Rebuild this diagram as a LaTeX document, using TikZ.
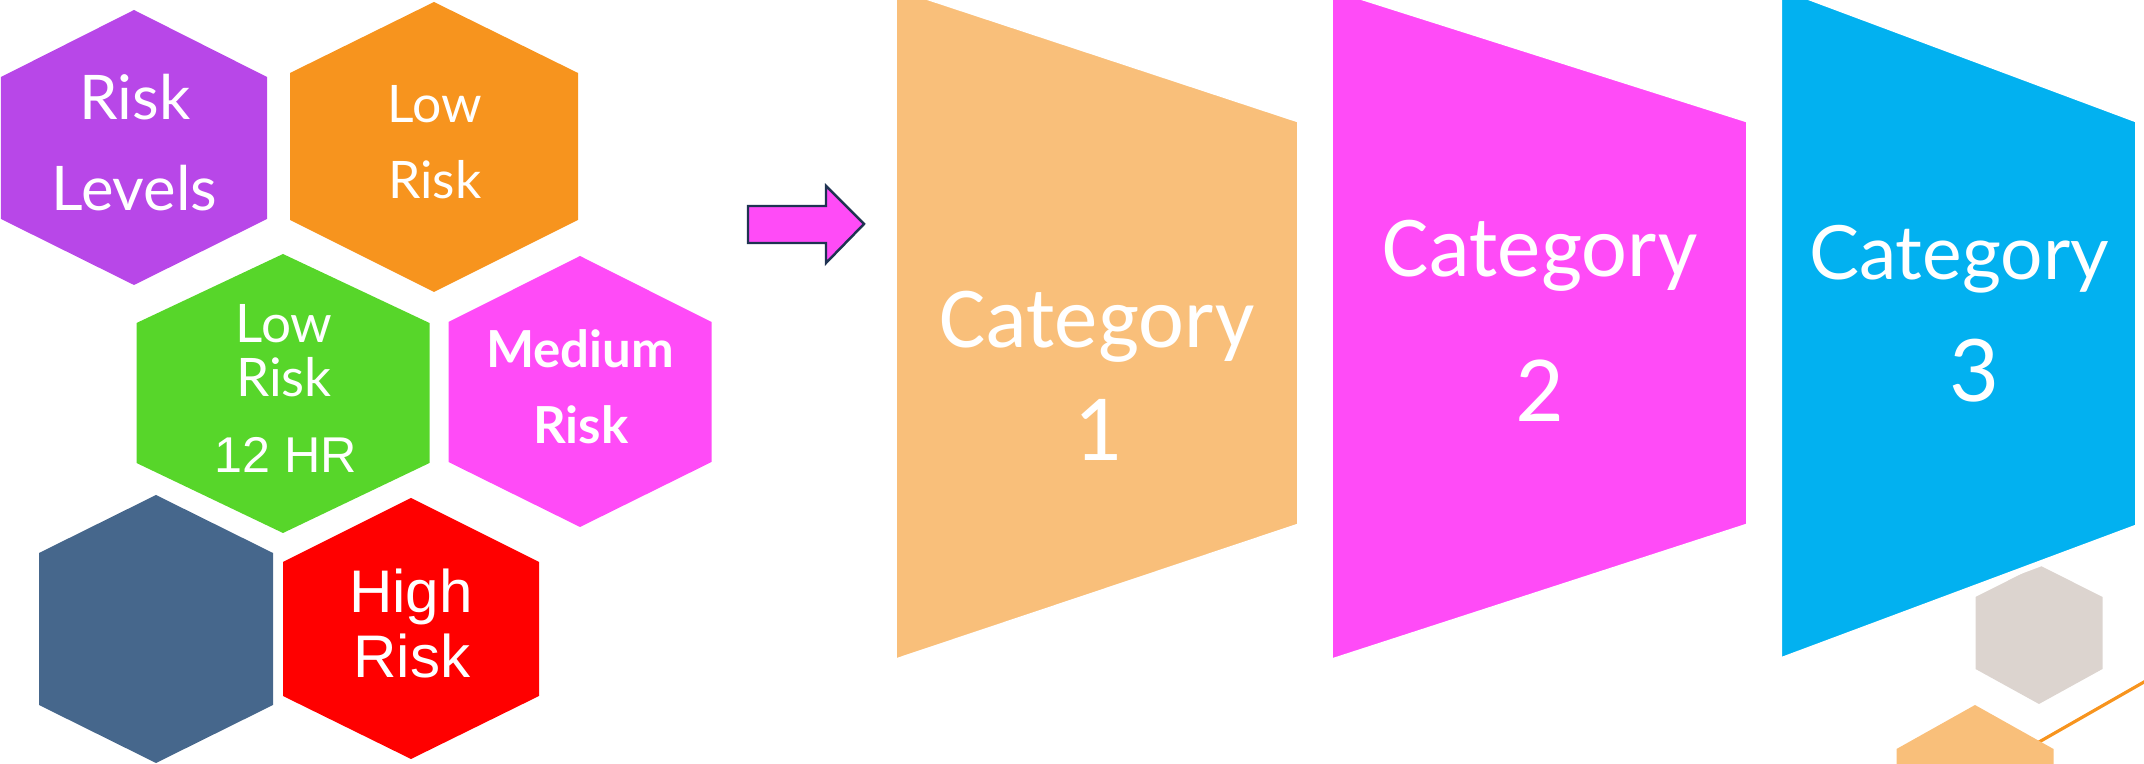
\documentclass[tikz,border=0pt]{standalone}
\usepackage{fontspec}
\setmainfont{Lato}
\newfontfamily\helv{Liberation Sans}
\newfontfamily\cali{Carlito}
\usepackage{xcolor}

\definecolor{hxpurple}{HTML}{B847E8}
\definecolor{hxorange}{HTML}{F7941E}
\definecolor{hxgreen}{HTML}{57D62A}
\definecolor{hxpink}{HTML}{FF4BF7}
\definecolor{hxslate}{HTML}{46678C}
\definecolor{hxred}{HTML}{FF0000}
\definecolor{hxgrey}{HTML}{DCD4CF}
\definecolor{catpeach}{HTML}{F9BF7A}
\definecolor{catblue}{HTML}{02B1F0}
\definecolor{arrnavy}{HTML}{1F3352}

\tikzset{
  lbl/.style={text=white, anchor=base, inner sep=0pt},
  catlbl/.style={lbl, font=\cali\fontsize{24.7}{30}\selectfont},
  catnum/.style={lbl, font=\cali\fontsize{27}{32}\selectfont},
  trap/.style={draw=white, line width=1.7pt},
}

% hexagon: colour, centre x, half width, top, upper side, lower side, bottom
\newcommand{\hexagon}[7]{%
  \fill[#1] (#2,#4) -- (#2+#3,#5) -- (#2+#3,#6) -- (#2,#7)
    -- (#2-#3,#6) -- (#2-#3,#5) -- cycle;}
% trapezoid: colour, left x, right x, top left, top right, bottom right, bottom left
\newcommand{\trapezoid}[7]{%
  \filldraw[trap, fill=#1] (#2,#4) -- (#3,#5) -- (#3,#6) -- (#2,#7) -- cycle;}

\begin{document}
\begin{tikzpicture}[x=0.01cm, y=-0.01cm]
\useasboundingbox (0,0) rectangle (2144,764);
\clip (0,0) rectangle (2144,764);

% honeycomb
\hexagon{hxpurple}{134}{133}{10}{77}{219}{285}
\hexagon{hxorange}{434}{144}{2}{73}{220}{292}
\hexagon{hxgreen}{283}{146.5}{254}{323}{463}{533}
\hexagon{hxpink}{580}{131.5}{256}{322}{462}{527}
\hexagon{hxslate}{156}{117}{495}{553}{705}{763}
\hexagon{hxred}{411}{128}{498}{562}{696}{759}

\node[lbl, font=\fontsize{17.5}{21}\selectfont] (lvl1) at (135,120) {Risk};
\node[lbl, font=\fontsize{17.5}{21}\selectfont] (lvl2) at (134.5,211) {Levels};
\node[lbl, font=\fontsize{14.7}{18}\selectfont] (low1) at (435,123) {Low};
\node[lbl, font=\fontsize{14.7}{18}\selectfont] (low2) at (435,199) {Risk};
\node[lbl, font=\fontsize{15.1}{18}\selectfont] (lowhr1) at (284,343) {Low};
\node[lbl, font=\fontsize{15.1}{18}\selectfont] (lowhr2) at (284,397) {Risk};
\node[lbl, font=\helv\fontsize{14.3}{17}\selectfont] (lowhr3) at (286,473) {12 HR};
\node[lbl, font=\bfseries\fontsize{14.5}{18}\selectfont] (med1) at (580,368) {Medium};
\node[lbl, font=\bfseries\fontsize{14.5}{18}\selectfont] (med2) at (581,444) {Risk};
\node[lbl, font=\helv\fontsize{17.1}{20}\selectfont] (high1) at (411,613) {High};
\node[lbl, font=\helv\fontsize{17.1}{20}\selectfont] (high2) at (412,678) {Risk};

% arrow
\filldraw[fill=hxpink, draw=arrnavy, line width=0.7pt, line join=miter]
  (748,206) -- (826,206) -- (826,186) -- (864,224) -- (826,263)
  -- (826,243) -- (748,243) -- cycle;

% corner decoration
\hexagon{hxgrey}{2039}{63.5}{565}{597}{669}{704}
\draw[hxorange, line width=0.9pt] (1990,770) -- (2200,650);
\hexagon{catpeach}{1975}{78.5}{705}{749}{850}{894}

% categories
\trapezoid{catpeach}{894}{1300}{-14}{120}{526}{662}
\trapezoid{hxpink}{1330}{1749}{-13}{120}{526}{662}
\trapezoid{catblue}{1779}{2138}{-14}{120}{527}{661}

\node[catlbl] (cat1) at (1097,348) {Category};
\node[catnum] (num1) at (1098,461) {1};
\node[catlbl] (cat2) at (1540,277) {Category};
\node[catnum] (num2) at (1540,422) {2};
\node[lbl, font=\fontsize{21.3}{26}\selectfont] (cat3) at (1959,280) {Category};
\node[lbl, font=\fontsize{24.5}{29}\selectfont] (num3) at (1974,402) {3};
\end{tikzpicture}
\end{document}
